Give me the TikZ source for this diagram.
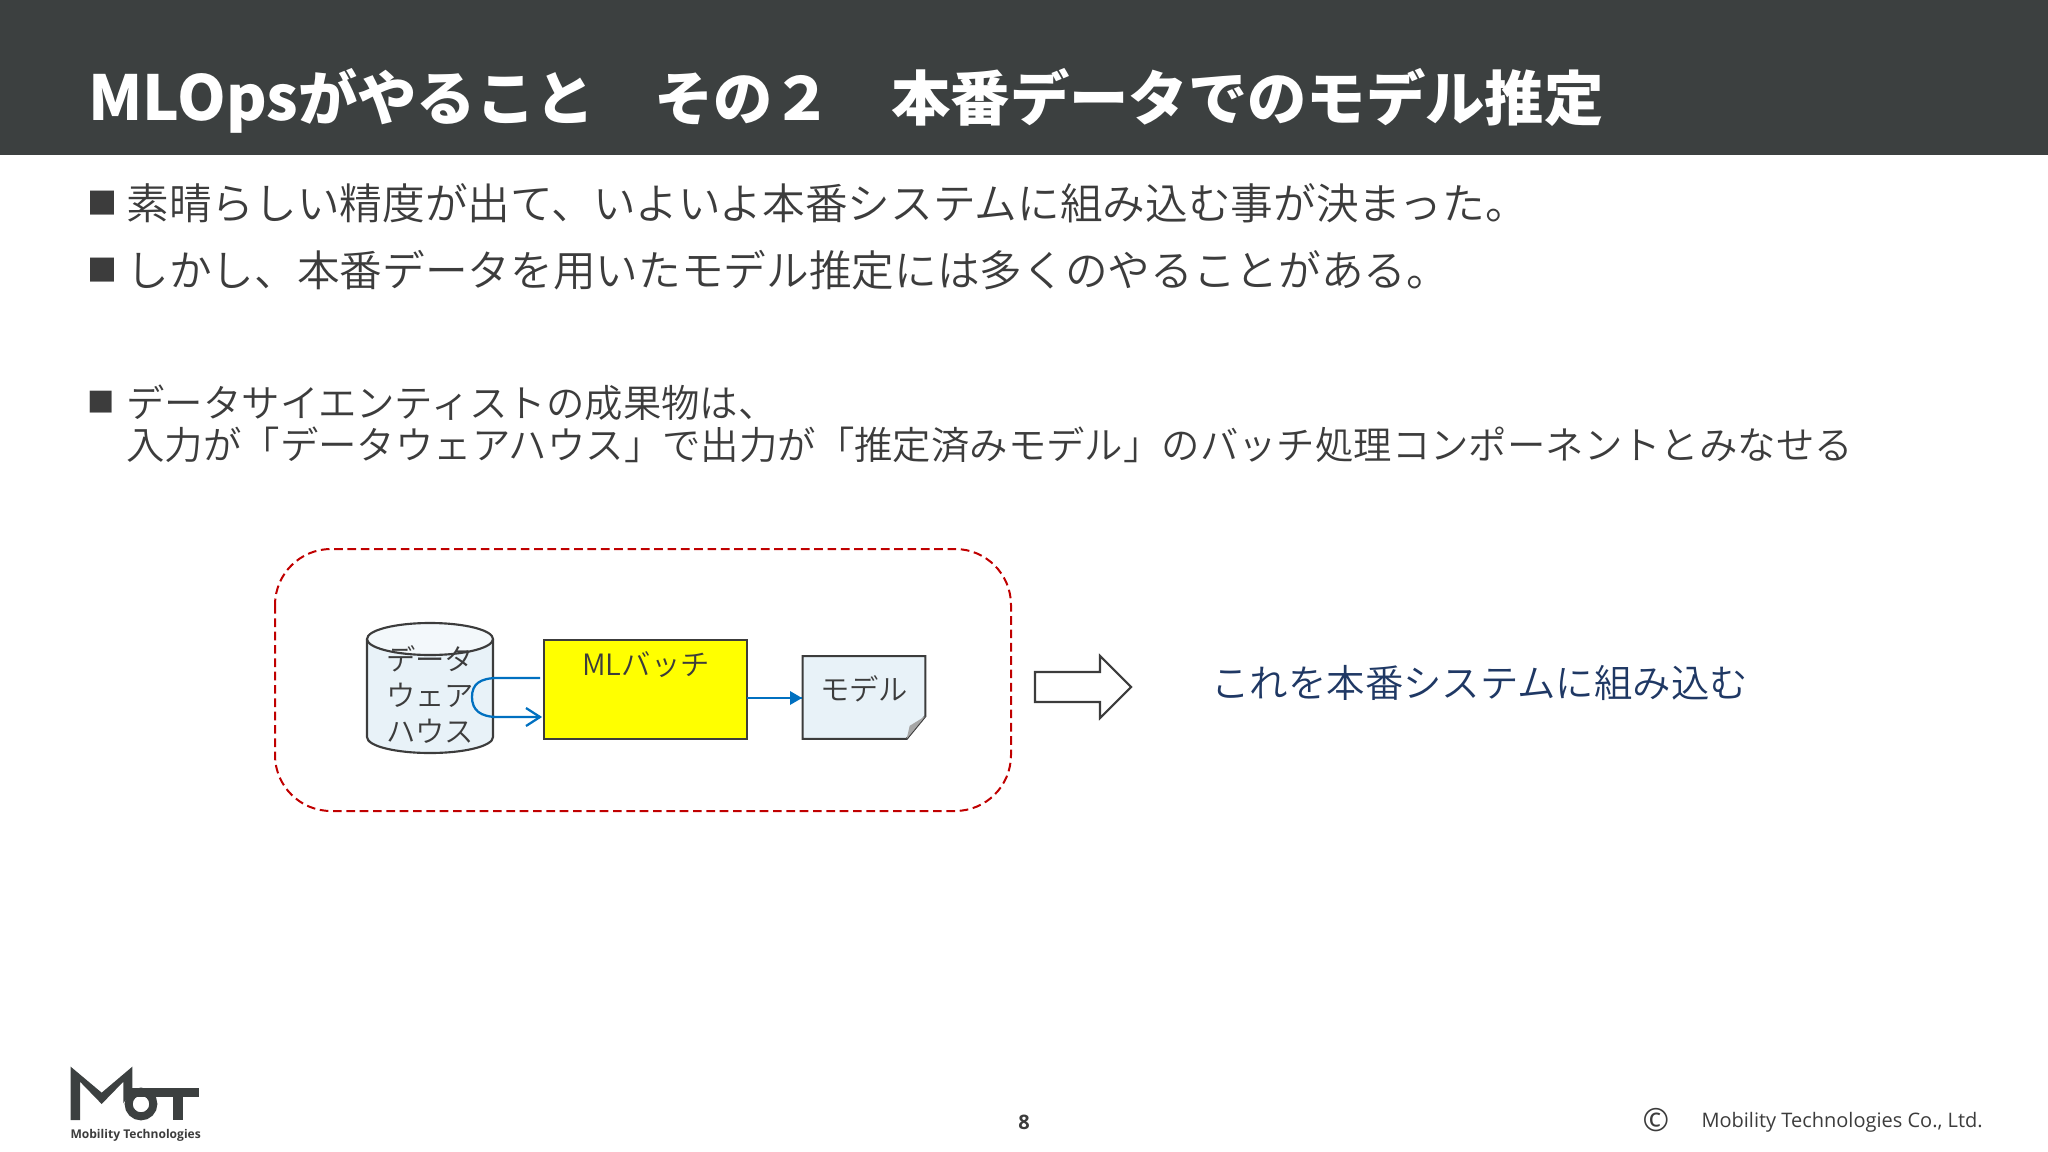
\documentclass[tikz,border=0pt]{standalone}
\usepackage{fontspec}
\setmainfont{Noto Sans CJK JP}
\newfontfamily\latinfont{Open Sans}
\newfontfamily\lightfont{Noto Sans CJK JP DemiLight}
\usepackage{tikz}
\tikzset{every picture/.style={line width=0.75pt}}
\definecolor{bandgray}{RGB}{60,64,64}
\definecolor{inkgray}{RGB}{60,60,60}
\definecolor{linkblue}{RGB}{0,112,192}
\definecolor{dashred}{RGB}{192,0,0}
\definecolor{paleblue}{RGB}{232,242,248}
\definecolor{navytext}{RGB}{31,56,100}
\definecolor{batchyellow}{RGB}{255,255,0}
\tikzset{
  titletext/.style={anchor=west,inner sep=0pt,text=white,font=\bfseries\fontsize{44.5pt}{54pt}\selectfont},
  bullettext/.style={anchor=west,inner sep=0pt,text=inkgray,font=\lightfont\fontsize{32pt}{40pt}\selectfont},
  detailtext/.style={anchor=west,inner sep=0pt,text=inkgray,font=\lightfont\fontsize{28.8pt}{36pt}\selectfont},
  bulletmark/.style={anchor=west,inner sep=0pt,text=inkgray,font=\fontsize{22.5pt}{28pt}\selectfont},
  boxtext/.style={inner sep=0pt,text=inkgray,font=\lightfont\fontsize{22pt}{27pt}\selectfont,align=center},
  shapeline/.style={draw=inkgray,line width=1.6pt},
  linkline/.style={draw=linkblue,line width=1.7pt},
}
\begin{document}
\begin{tikzpicture}[x=0.75pt,y=0.75pt,yscale=-1,xscale=1]
\useasboundingbox (0,0) rectangle (2048,1152);

%Shape: Header band
\fill [bandgray] (0,0) rectangle (2048,155);
% Text Node
\node (titlelabel) [titletext] at (88,101) {{\fontsize{46.5pt}{54pt}\selectfont MLOps}がやること　その２　本番データでのモデル推定};

% Text Node
\node (firstbullet) [bulletmark] at (87,203) {■};
\node (firstline) [bullettext] at (126,203) {素晴らしい精度が出て、いよいよ本番システムに組み込む事が決まった。};
\node (secondbullet) [bulletmark] at (87,270) {■};
\node (secondline) [bullettext] at (126,270) {しかし、本番データを用いたモデル推定には多くのやることがある。};
\node (thirdbullet) [bulletmark,font=\fontsize{20.5pt}{26pt}\selectfont] at (87,402) {■};
\node (thirdline) [detailtext] at (126,403) {データサイエンティストの成果物は、};
\node (fourthline) [detailtext] at (126,445) {入力が「データウェアハウス」で出力が「推定済みモデル」のバッチ処理コンポーネントとみなせる};

%Shape: Rounded Rectangle
\draw [dashred,line width=1.5pt,dash pattern=on 6.5pt off 3.5pt,rounded corners=42pt] (275,549) rectangle (1011,811);

%Shape: Can
\draw [shapeline,fill=paleblue] (367,639) -- (367,737) .. controls (367,746) and (395,753) .. (430,753) .. controls (465,753) and (493,746) .. (493,737) -- (493,639) ;
\draw [shapeline,fill=paleblue!50] (430,639) ellipse [x radius=63,y radius=16];
% Text Node
\node (warehouse) [boxtext] at (430,695) {データ\\ウェア\\ハウス};

%Shape: Rectangle
\node (batch) [shapeline,fill=batchyellow,minimum width=152pt,minimum height=74pt,inner sep=0pt,outer sep=0pt] at (645.5,689.5) {};
% Text Node
\node (batchlabel) [boxtext] at (646,665) {MLバッチ};

%Shape: Snip Note
\node (model) [minimum width=92pt,minimum height=62pt,inner sep=0pt,outer sep=0pt] at (864,697.5) {};
\draw [shapeline,fill=paleblue] (model.north west) -- (model.north east) -- ([yshift=14pt]model.east) -- ([xshift=-14pt]model.south east) -- (model.south west) -- cycle ;
\fill [gray!70] ([yshift=14pt]model.east) -- ([xshift=-14pt]model.south east) -- ++(3,-13) -- cycle ;
% Text Node
\node (modellabel) [boxtext] at (864,689) {モデル};

\coordinate (loopstart) at (540,678);
\coordinate (loopend) at (540,717);
%Curve Lines
\draw [linkline] (loopstart) -- (498,678) .. controls (480,678) and (472,684) .. (472,697) .. controls (472,710) and (480,717) .. (498,717) -- (loopend) ;
\draw [linkline] (526,708) -- (loopend) -- (526,726) ;
%Straight Lines
\coordinate (modelin) at (802,698);
\draw [linkline] (batch.east |- modelin) -- (modelin) ;
\fill [linkblue] (802,698) -- (790,691) -- (790,705) -- cycle ;

%Shape: Right Arrow
\draw [shapeline] (1035,672) -- (1100,672) -- (1100,656) -- (1131,687) -- (1100,718) -- (1100,702) -- (1035,702) -- cycle ;
% Text Node
\node (rolloutlabel) [anchor=west,inner sep=0pt,text=navytext,font=\lightfont\fontsize{28.8pt}{34pt}\selectfont] at (1211,683) {これを本番システムに組み込む};

%Shape: Logo
\begin{scope}[shift={(40,1040)},scale=1/3]
\fill [bandgray] (92,80) -- (185,158) -- (277,80) -- (277,150) -- (250,190) -- (250,125) -- (185,192) -- (120,125) -- (120,240) -- (92,240) -- cycle ;
\draw [bandgray,line width=6pt] (303,192) circle (37);
\fill [bandgray] (270,145) rectangle (478,172) ;
\fill [bandgray] (400,145) rectangle (428,240) ;
\end{scope}
% Text Node
\node (logotext) [anchor=west,inner sep=0pt,text=inkgray,font=\latinfont\bfseries\fontsize{9.05pt}{11pt}\selectfont] at (70,1135) {Mobility Technologies};
% Text Node
\node (pagenumber) [inner sep=0pt,text=inkgray,font=\latinfont\bfseries\fontsize{15pt}{18pt}\selectfont] at (1024,1122) {8};
% Text Node
\node (copymark) [inner sep=0pt,text=inkgray,font=\latinfont\fontsize{24pt}{28pt}\selectfont] at (1656,1120) {©};
\node (companylabel) [anchor=west,inner sep=0pt,text=inkgray,font=\latinfont\fontsize{15pt}{20pt}\selectfont] at (1701,1122) {Mobility Technologies Co., Ltd.};
\end{tikzpicture}
\end{document}
